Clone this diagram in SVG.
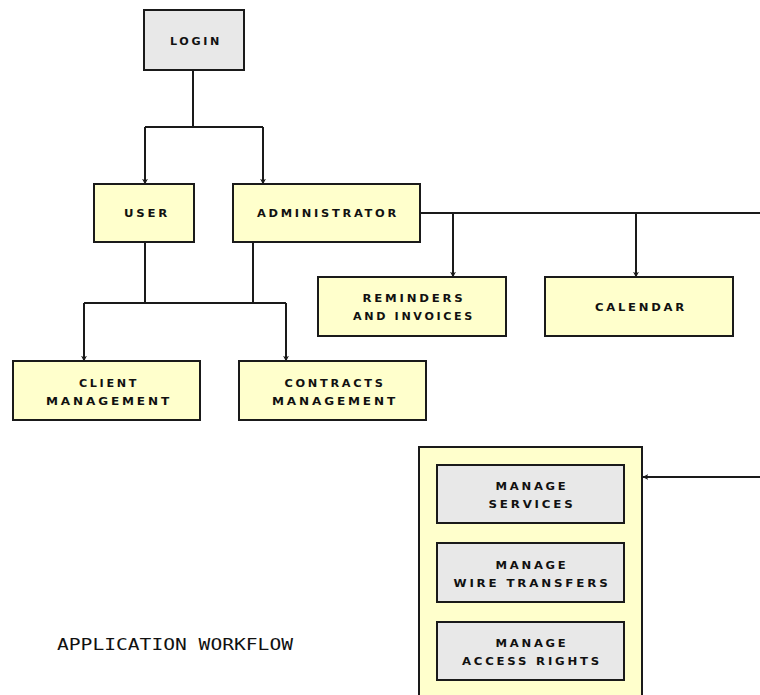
<svg xmlns="http://www.w3.org/2000/svg" width="760" height="695" viewBox="0 0 760 695">
<defs>
<style>
.y{fill:#ffffcc;stroke:#1a1a1a;stroke-width:2}
.g{fill:#e8e8e8;stroke:#1a1a1a;stroke-width:2}
.t{font-family:"DejaVu Sans","Liberation Sans",sans-serif;font-size:10.5px;font-weight:bold;fill:#111;text-anchor:middle;letter-spacing:2.5px}
.c{fill:none;stroke:#1a1a1a;stroke-width:2}
.ti{font-family:"DejaVu Sans Mono","Liberation Mono",monospace;font-size:16px;fill:#111}
</style>
<marker id="ar" viewBox="0 0 10 10" refX="9" refY="5" markerWidth="6" markerHeight="6" markerUnits="userSpaceOnUse" orient="auto">
<path d="M0,0 L10,5 L0,10 L3,5 Z" fill="#1a1a1a"/>
</marker>
</defs>
<rect width="760" height="695" fill="#fff"/>
<g id="connectors">
<path class="c" d="M193,70 V127 M145,127 H263"/>
<path class="c" d="M145,127 V184" marker-end="url(#ar)"/>
<path class="c" d="M263,127 V184" marker-end="url(#ar)"/>
<path class="c" d="M420,213 H760"/>
<path class="c" d="M453,213 V277" marker-end="url(#ar)"/>
<path class="c" d="M636,213 V277" marker-end="url(#ar)"/>
<path class="c" d="M145,242 V303 M253,242 V303 M84,303 H286"/>
<path class="c" d="M84,303 V361" marker-end="url(#ar)"/>
<path class="c" d="M286,303 V361" marker-end="url(#ar)"/>
<path class="c" d="M760,477 H643" marker-end="url(#ar)"/>
</g>
<g id="login"><rect class="g" x="144" y="10" width="100" height="60"/><text class="t" x="196" y="45" textLength="52" lengthAdjust="spacingAndGlyphs">LOGIN</text></g>
<g id="user"><rect class="y" x="94" y="184" width="100" height="58"/><text class="t" x="147" y="217" textLength="46" lengthAdjust="spacingAndGlyphs">USER</text></g>
<g id="administrator"><rect class="y" x="233" y="184" width="187" height="58"/><text class="t" x="328" y="217" textLength="142" lengthAdjust="spacingAndGlyphs">ADMINISTRATOR</text></g>
<g id="reminders"><rect class="y" x="318" y="277" width="188" height="59"/><text class="t" x="414" y="302" textLength="103" lengthAdjust="spacingAndGlyphs">REMINDERS</text><text class="t" x="414" y="320" textLength="122" lengthAdjust="spacingAndGlyphs">AND INVOICES</text></g>
<g id="calendar"><rect class="y" x="545" y="277" width="188" height="59"/><text class="t" x="641" y="311" textLength="92" lengthAdjust="spacingAndGlyphs">CALENDAR</text></g>
<g id="client"><rect class="y" x="13" y="361" width="187" height="59"/><text class="t" x="109" y="387" textLength="60" lengthAdjust="spacingAndGlyphs">CLIENT</text><text class="t" x="109" y="405" textLength="126" lengthAdjust="spacingAndGlyphs">MANAGEMENT</text></g>
<g id="contracts"><rect class="y" x="239" y="361" width="187" height="59"/><text class="t" x="335" y="387" textLength="101" lengthAdjust="spacingAndGlyphs">CONTRACTS</text><text class="t" x="335" y="405" textLength="126" lengthAdjust="spacingAndGlyphs">MANAGEMENT</text></g>
<g id="admin-panel"><rect class="y" x="419" y="447" width="223" height="260"/></g>
<g id="services"><rect class="g" x="437" y="465" width="187" height="58"/><text class="t" x="532" y="490" textLength="73" lengthAdjust="spacingAndGlyphs">MANAGE</text><text class="t" x="532" y="508" textLength="87" lengthAdjust="spacingAndGlyphs">SERVICES</text></g>
<g id="wire"><rect class="g" x="437" y="543" width="187" height="59"/><text class="t" x="532" y="569" textLength="73" lengthAdjust="spacingAndGlyphs">MANAGE</text><text class="t" x="532" y="587" textLength="157" lengthAdjust="spacingAndGlyphs">WIRE TRANSFERS</text></g>
<g id="access"><rect class="g" x="437" y="622" width="187" height="58"/><text class="t" x="532" y="647" textLength="73" lengthAdjust="spacingAndGlyphs">MANAGE</text><text class="t" x="532" y="665" textLength="140" lengthAdjust="spacingAndGlyphs">ACCESS RIGHTS</text></g>
<g id="title"><text class="ti" x="57" y="650" textLength="236" lengthAdjust="spacingAndGlyphs">APPLICATION WORKFLOW</text></g>
</svg>
